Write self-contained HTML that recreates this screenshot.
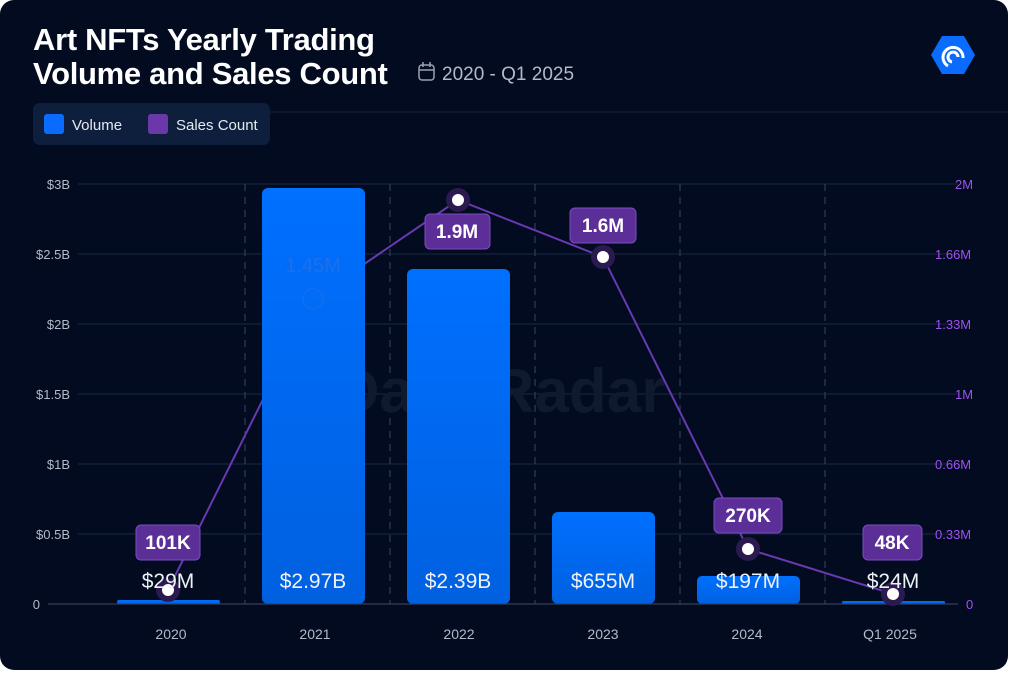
<!DOCTYPE html>
<html><head><style>
html,body{margin:0;padding:0;background:#fff;width:1014px;height:676px;overflow:hidden}
svg{display:block;font-family:"Liberation Sans",sans-serif}
</style></head><body>
<svg width="1014" height="676" viewBox="0 0 1014 676">
<defs>
<linearGradient id="bg" x1="0" y1="0" x2="0" y2="1"><stop offset="0" stop-color="#0070ff"/><stop offset="1" stop-color="#0060e0"/></linearGradient>
</defs>
<rect x="0" y="0" width="1008" height="670" rx="14" fill="#020b20"/>
<text x="33" y="50" font-size="31" font-weight="bold" fill="#fff" letter-spacing="-0.3">Art NFTs Yearly Trading</text>
<text x="33" y="84" font-size="31" font-weight="bold" fill="#fff" letter-spacing="-0.3">Volume and Sales Count</text>
<g stroke="#9aa3b5" stroke-width="1.5" fill="none"><rect x="419" y="65" width="15" height="15" rx="3"/><line x1="419" y1="70" x2="434" y2="70"/><line x1="423" y1="62" x2="423" y2="67"/><line x1="430" y1="62" x2="430" y2="67"/></g>
<text x="442" y="80" font-size="19" fill="#b4bac8">2020 - Q1 2025</text>
<polygon points="942,36 964,36 975,55 964,74 942,74 931,55" fill="#0a6cff"/>
<path d="M948 66 A10 10 0 1 1 963 58" stroke="#fff" stroke-width="3" fill="none"/>
<path d="M952 62 A5 5 0 1 1 958 57" stroke="#fff" stroke-width="3" fill="none"/>
<line x1="270" y1="112" x2="1008" y2="112" stroke="#16213a"/>
<rect x="33" y="103" width="237" height="42" rx="7" fill="#0e1f3d"/>
<rect x="44" y="114" width="20" height="20" rx="3" fill="#0a6cff"/>
<text x="72" y="130" font-size="15" fill="#e6e9f0">Volume</text>
<rect x="148" y="114" width="20" height="20" rx="3" fill="#6a38a8"/>
<text x="176" y="130" font-size="15" fill="#e6e9f0">Sales Count</text>
<g stroke="#17223c" stroke-width="1.2">
<line x1="78" y1="184" x2="958" y2="184"/><line x1="78" y1="254" x2="958" y2="254"/><line x1="78" y1="324" x2="958" y2="324"/><line x1="78" y1="394" x2="958" y2="394"/><line x1="78" y1="464" x2="958" y2="464"/><line x1="78" y1="534" x2="958" y2="534"/>
</g>
<g stroke="#323d56" stroke-width="1.2" stroke-dasharray="7,6">
<line x1="245" y1="184" x2="245" y2="604"/><line x1="390" y1="184" x2="390" y2="604"/><line x1="535" y1="184" x2="535" y2="604"/><line x1="680" y1="184" x2="680" y2="604"/><line x1="825" y1="184" x2="825" y2="604"/>
</g>
<g font-size="13" fill="#b4bac8" text-anchor="end">
<text x="70" y="189">$3B</text><text x="70" y="259">$2.5B</text><text x="70" y="329">$2B</text><text x="70" y="399">$1.5B</text><text x="70" y="469">$1B</text><text x="70" y="539">$0.5B</text><text x="40" y="609">0</text>
</g>
<g font-size="13" fill="#a050f0">
<text x="955" y="189">2M</text><text x="935" y="259">1.66M</text><text x="935" y="329">1.33M</text><text x="955" y="399">1M</text><text x="935" y="469">0.66M</text><text x="935" y="539">0.33M</text><text x="966" y="609">0</text>
</g>
<text x="500" y="412" font-size="62" font-weight="bold" fill="#0f1a30" text-anchor="middle">DappRadar</text>
<polyline points="168,590 313,299 458,200 603,257 748,549 893,594" fill="none" stroke="#6a38b0" stroke-width="2"/>
<g fill="url(#bg)">
<rect x="117" y="600" width="103" height="4" rx="2"/>
<rect x="262" y="188" width="103" height="416" rx="6"/>
<rect x="407" y="269" width="103" height="335" rx="6"/>
<rect x="552" y="512" width="103" height="92" rx="6"/>
<rect x="697" y="576" width="103" height="28" rx="5"/>
<rect x="842" y="601" width="103" height="3" rx="1.5"/>
</g>
<line x1="48" y1="604" x2="958" y2="604" stroke="#34405a" stroke-width="1.2"/>
<text x="313" y="272" font-size="20" fill="#1f6fe8" text-anchor="middle">1.45M</text>
<circle cx="313" cy="299" r="10" fill="none" stroke="#1f6fe8" stroke-width="1"/>
<g fill="#2a1a50"><circle cx="168" cy="590" r="12"/><circle cx="458" cy="200" r="12"/><circle cx="603" cy="257" r="12"/><circle cx="748" cy="549" r="12"/><circle cx="893" cy="594" r="12"/></g>
<g fill="#fff"><circle cx="168" cy="590" r="6"/><circle cx="458" cy="200" r="6"/><circle cx="603" cy="257" r="6"/><circle cx="748" cy="549" r="6"/><circle cx="893" cy="594" r="6"/></g>
<g font-size="21" fill="#eef1f6" text-anchor="middle">
<text x="168" y="588">$29M</text><text x="313" y="588">$2.97B</text><text x="458" y="588">$2.39B</text><text x="603" y="588">$655M</text><text x="748" y="588">$197M</text><text x="893" y="588">$24M</text>
</g>
<g fill="#5c2f98" stroke="#7a4cc0" stroke-width="1">
<rect x="136" y="525" width="64" height="35" rx="5"/><rect x="425" y="214" width="65" height="35" rx="5"/><rect x="570" y="208" width="66" height="35" rx="5"/><rect x="714" y="498" width="68" height="35" rx="5"/><rect x="863" y="525" width="59" height="35" rx="5"/>
</g>
<g font-size="19" font-weight="bold" fill="#fff" text-anchor="middle">
<text x="168" y="549">101K</text><text x="457" y="238">1.9M</text><text x="603" y="232">1.6M</text><text x="748" y="522">270K</text><text x="892" y="549">48K</text>
</g>
<g font-size="14" fill="#b4bac8" text-anchor="middle">
<text x="171" y="639">2020</text><text x="315" y="639">2021</text><text x="459" y="639">2022</text><text x="603" y="639">2023</text><text x="747" y="639">2024</text><text x="890" y="639">Q1 2025</text>
</g>
</svg>
</body></html>
